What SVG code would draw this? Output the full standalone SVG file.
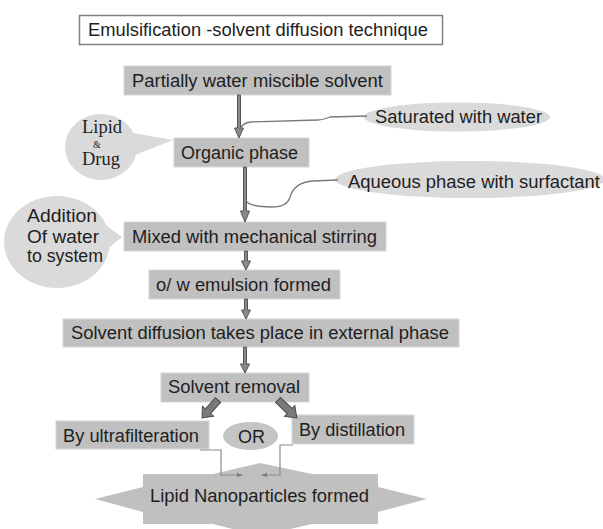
<svg xmlns="http://www.w3.org/2000/svg" width="603" height="529" viewBox="0 0 603 529">
<style>
.t{font-family:"Liberation Sans",Arial,sans-serif;font-size:17.5px;fill:#1e1e1e}
.s{font-family:"Liberation Serif","Times New Roman",serif;fill:#1e1e1e}
.box{fill:#c0c0c0;stroke:#d6d6d6;stroke-width:1}
.bub{fill:#dadada;stroke:none}
.arr{fill:#8a8a8a;stroke:#555;stroke-width:1}
.thick{fill:#7a7a7a;stroke:#4a4a4a;stroke-width:1}
.con{fill:none;stroke:#7a7a7a;stroke-width:1.3}
.el{fill:none;stroke:#8a8a8a;stroke-width:1.2}
</style>
<defs>
<marker id="ah" viewBox="0 0 10 10" refX="9" refY="5" markerWidth="6" markerHeight="6" orient="auto" markerUnits="userSpaceOnUse">
<path d="M0,1 L10,5 L0,9 z" fill="#7a7a7a"/>
</marker>
</defs>
<rect width="603" height="529" fill="#fff"/>

<g id="title">
<rect x="79.5" y="15.5" width="363" height="29" fill="#fff" stroke="#808080" stroke-width="1.5"/>
<text class="t" x="88" y="36" textLength="340" lengthAdjust="spacingAndGlyphs">Emulsification -solvent diffusion technique</text>
</g>

<g id="partially">
<rect class="box" x="124" y="66" width="267" height="29"/>
<text class="t" x="132" y="87" textLength="251" lengthAdjust="spacingAndGlyphs">Partially water miscible solvent</text>
</g>

<g id="saturated">
<ellipse class="bub" cx="457" cy="117" rx="93" ry="14.5"/>
<text class="t" x="375" y="123" textLength="167" lengthAdjust="spacingAndGlyphs">Saturated with water</text>
</g>

<g id="lipid-drug">
<ellipse class="bub" cx="101" cy="147" rx="36" ry="33"/>
<polygon class="bub" points="128,132 173,140 130,157"/>
<text class="s" x="82" y="133" font-size="18" textLength="40" lengthAdjust="spacingAndGlyphs">Lipid</text>
<text class="s" x="93" y="148" font-size="10">&amp;</text>
<text class="s" x="82" y="165" font-size="18" textLength="38" lengthAdjust="spacingAndGlyphs">Drug</text>
</g>

<g id="organic">
<rect class="box" x="174" y="138" width="135" height="29"/>
<text class="t" x="181" y="159" textLength="117" lengthAdjust="spacingAndGlyphs">Organic phase</text>
</g>

<g id="aqueous">
<ellipse class="bub" cx="470" cy="179.5" rx="135" ry="18.5"/>
<text class="t" x="348" y="188" textLength="252" lengthAdjust="spacingAndGlyphs">Aqueous phase with surfactant</text>
</g>

<g id="addition">
<ellipse class="bub" cx="57" cy="242" rx="53" ry="46"/>
<polygon class="bub" points="104,224 122,237 105,251"/>
<text class="t" x="27" y="222" font-size="18px" textLength="70" lengthAdjust="spacingAndGlyphs">Addition</text>
<text class="t" x="27" y="243" font-size="18px" textLength="72" lengthAdjust="spacingAndGlyphs">Of water</text>
<text class="t" x="27" y="262" font-size="18px" textLength="76" lengthAdjust="spacingAndGlyphs">to system</text>
</g>

<g id="mixed">
<rect class="box" x="124" y="222" width="262" height="29"/>
<text class="t" x="132" y="243" textLength="245" lengthAdjust="spacingAndGlyphs">Mixed with mechanical stirring</text>
</g>

<g id="emulsion">
<rect class="box" x="149" y="270" width="191" height="29"/>
<text class="t" x="156" y="291" textLength="175" lengthAdjust="spacingAndGlyphs">o/ w emulsion formed</text>
</g>

<g id="diffusion">
<rect class="box" x="63" y="319" width="396" height="28"/>
<text class="t" x="71" y="339" textLength="378" lengthAdjust="spacingAndGlyphs">Solvent diffusion takes place in external phase</text>
</g>

<g id="removal">
<rect class="box" x="161" y="373" width="148" height="29"/>
<text class="t" x="168" y="393" textLength="132" lengthAdjust="spacingAndGlyphs">Solvent removal</text>
</g>

<g id="ultrafiltration">
<rect class="box" x="56" y="421" width="153" height="28"/>
<text class="t" x="63" y="442" textLength="136" lengthAdjust="spacingAndGlyphs">By ultrafilteration</text>
</g>

<g id="or">
<ellipse cx="250.5" cy="436" rx="27.5" ry="14" fill="#c4c4c4"/>
<text class="t" x="238" y="443" textLength="27" lengthAdjust="spacingAndGlyphs">OR</text>
</g>

<g id="distillation">
<rect class="box" x="292" y="415" width="122" height="29"/>
<text class="t" x="299" y="436" textLength="106" lengthAdjust="spacingAndGlyphs">By distillation</text>
</g>

<g id="nanoparticles">
<polygon fill="#c0c0c0" points="143,474 213,474 260,463 312,474 378,474 378,487 427,499 378,512 378,524 312,524 260,536 213,524 143,524 143,512 95,499 143,487"/>
<text class="t" x="150" y="502" textLength="219" lengthAdjust="spacingAndGlyphs">Lipid Nanoparticles formed</text>
</g>

<g id="connectors">
<polygon class="arr" points="237.5,95 240.5,95 240.5,128 243.5,128 239,138 234.5,128 237.5,128"/>
<polygon class="arr" points="243.5,167 246.5,167 246.5,211 249.5,211 245,222 240.5,211 243.5,211"/>
<polygon class="arr" points="244.5,251 247.5,251 247.5,261 250.5,261 246,270 241.5,261 244.5,261"/>
<polygon class="arr" points="244.5,299 247.5,299 247.5,310 250.5,310 246,319 241.5,310 244.5,310"/>
<polygon class="arr" points="243.5,347 246.5,347 246.5,364 249.5,364 245,373 240.5,364 243.5,364"/>
<path class="con" d="M367,116 L330,117 C325,119 322,120 318,120 L250,122 C244,123 241,126 240,130"/>
<path class="con" d="M338,180 L313,181 C298,182 292,190 290,197 C288,204 282,207 272,207 C260,207 250,206 246,201"/>
<polygon class="thick" transform="translate(218,400) rotate(131.6)" points="0,-3.5 15,-3.5 15,-7.5 24,0 15,7.5 15,3.5 0,3.5"/>
<polygon class="thick" transform="translate(278,400) rotate(43.5)" points="0,-3.5 16,-3.5 16,-7.5 26,0 16,7.5 16,3.5 0,3.5"/>
<path class="el" d="M200,450 H221 V475 H242" marker-end="url(#ah)"/>
<path class="el" d="M293,445 H280 V475 H262" marker-end="url(#ah)"/>
</g>
</svg>
